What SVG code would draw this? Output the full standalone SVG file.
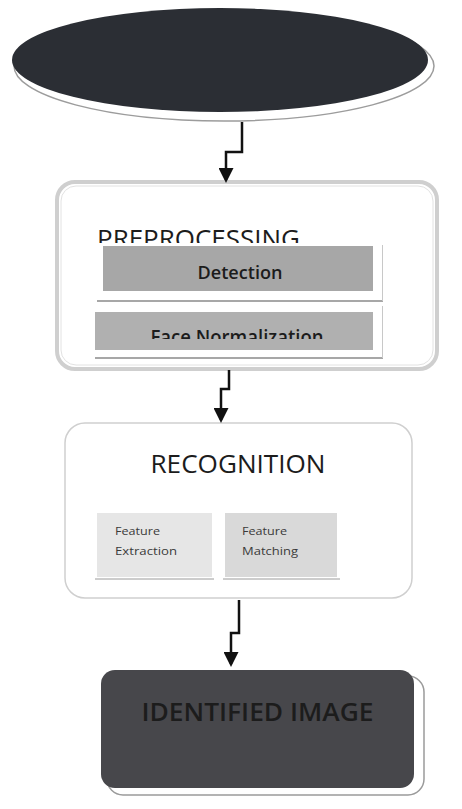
<svg xmlns="http://www.w3.org/2000/svg" width="462" height="809" viewBox="0 0 462 809">
<style>
  text { font-family: "Open Sans", "Liberation Sans", Arial, sans-serif; fill: #1c1c1c; }
  .conn { fill: none; stroke: #111; stroke-width: 2.5; }
  .card { fill: #ffffff; stroke: none; }
  .cardline { stroke: #8a8a8a; stroke-width: 1.5; }
  .small { font-size: 11px; fill: #3a3a3a; }
</style>
<defs>
  <marker id="arrow" viewBox="0 0 10 10" refX="8" refY="5" markerWidth="15" markerHeight="15" markerUnits="userSpaceOnUse" orient="auto">
    <path d="M0,0 L10,5 L0,10 z" fill="#111"/>
  </marker>
  <clipPath id="clipPre"><rect x="60" y="200" width="370" height="44"/></clipPath>
  <clipPath id="clipFace"><rect x="95" y="312" width="280" height="27"/></clipPath>
</defs>
<rect width="462" height="809" fill="#ffffff"/>

<g id="start">
  <ellipse cx="224" cy="66" rx="210" ry="55" fill="#ffffff" stroke="#9c9c9c" stroke-width="1.5"/>
  <ellipse cx="220" cy="60" rx="208" ry="52" fill="#2b2e34"/>
</g>

<g id="preprocessing">
  <rect x="57" y="182" width="380" height="187" rx="18" fill="#ffffff" stroke="#cfcfcf" stroke-width="4"/>
  <rect x="61" y="186" width="372" height="179" rx="15" fill="none" stroke="#e2e2e2" stroke-width="1"/>
  <text x="97" y="248" font-size="25" textLength="203" lengthAdjust="spacingAndGlyphs" clip-path="url(#clipPre)">PREPROCESSING</text>
  <g id="detection">
    <rect class="card" x="97" y="243" width="286" height="59"/>
    <line class="cardline" x1="97" y1="301" x2="383" y2="301"/>
    <line x1="382.5" y1="245" x2="382.5" y2="301" stroke="#c8c8c8" stroke-width="1"/>
    <rect x="103" y="246" width="270" height="45" fill="#a7a7a7"/>
    <text x="240" y="279" font-size="18" font-weight="600" text-anchor="middle" textLength="85" lengthAdjust="spacingAndGlyphs">Detection</text>
  </g>
  <g id="face-normalization">
    <rect class="card" x="95" y="306" width="288" height="53"/>
    <line class="cardline" x1="95" y1="358" x2="383" y2="358" stroke-width="2"/>
    <line x1="382.5" y1="306" x2="382.5" y2="358" stroke="#c8c8c8" stroke-width="1"/>
    <rect x="95" y="312" width="278" height="38" fill="#b0b0b0"/>
    <text x="237" y="344" font-size="19" font-weight="600" text-anchor="middle" textLength="173" lengthAdjust="spacingAndGlyphs" clip-path="url(#clipFace)">Face Normalization</text>
  </g>
</g>

<g id="recognition">
  <rect x="65" y="423" width="347" height="175" rx="20" fill="#ffffff" stroke="#cfcfcf" stroke-width="1.5"/>
  <text x="238" y="473" font-size="25" text-anchor="middle" textLength="175" lengthAdjust="spacingAndGlyphs">RECOGNITION</text>
  <g id="feature-extraction">
    <rect class="card" x="95" y="511" width="119" height="69"/>
    <line x1="95" y1="579" x2="214" y2="579" stroke="#9a9a9a" stroke-width="1"/>
    <rect x="97" y="513" width="115" height="64" fill="#e6e6e6"/>
    <text class="small" x="115" y="535" textLength="45" lengthAdjust="spacingAndGlyphs">Feature</text>
    <text class="small" x="115" y="555" textLength="62" lengthAdjust="spacingAndGlyphs">Extraction</text>
  </g>
  <g id="feature-matching">
    <rect class="card" x="223" y="511" width="117" height="69"/>
    <line x1="223" y1="579" x2="340" y2="579" stroke="#9a9a9a" stroke-width="1"/>
    <rect x="225" y="513" width="112" height="64" fill="#d9d9d9"/>
    <text class="small" x="242" y="535" textLength="45" lengthAdjust="spacingAndGlyphs">Feature</text>
    <text class="small" x="242" y="555" textLength="56" lengthAdjust="spacingAndGlyphs">Matching</text>
  </g>
</g>

<g id="identified-image">
  <rect x="107" y="676" width="317" height="119" rx="16" fill="#ffffff" stroke="#9a9a9a" stroke-width="1.5"/>
  <rect x="101" y="670" width="313" height="118" rx="14" fill="#47474b"/>
  <text x="257.5" y="721" font-size="26" font-weight="600" text-anchor="middle" textLength="232" lengthAdjust="spacingAndGlyphs" fill="#0a0a0a">IDENTIFIED IMAGE</text>
</g>

<g id="connectors">
  <path class="conn" d="M242,122 V152 H226 V180" marker-end="url(#arrow)"/>
  <path class="conn" d="M229,370 V389 H221 V420" marker-end="url(#arrow)"/>
  <path class="conn" d="M239,600 V633 H231 V664" marker-end="url(#arrow)"/>
</g>
</svg>
